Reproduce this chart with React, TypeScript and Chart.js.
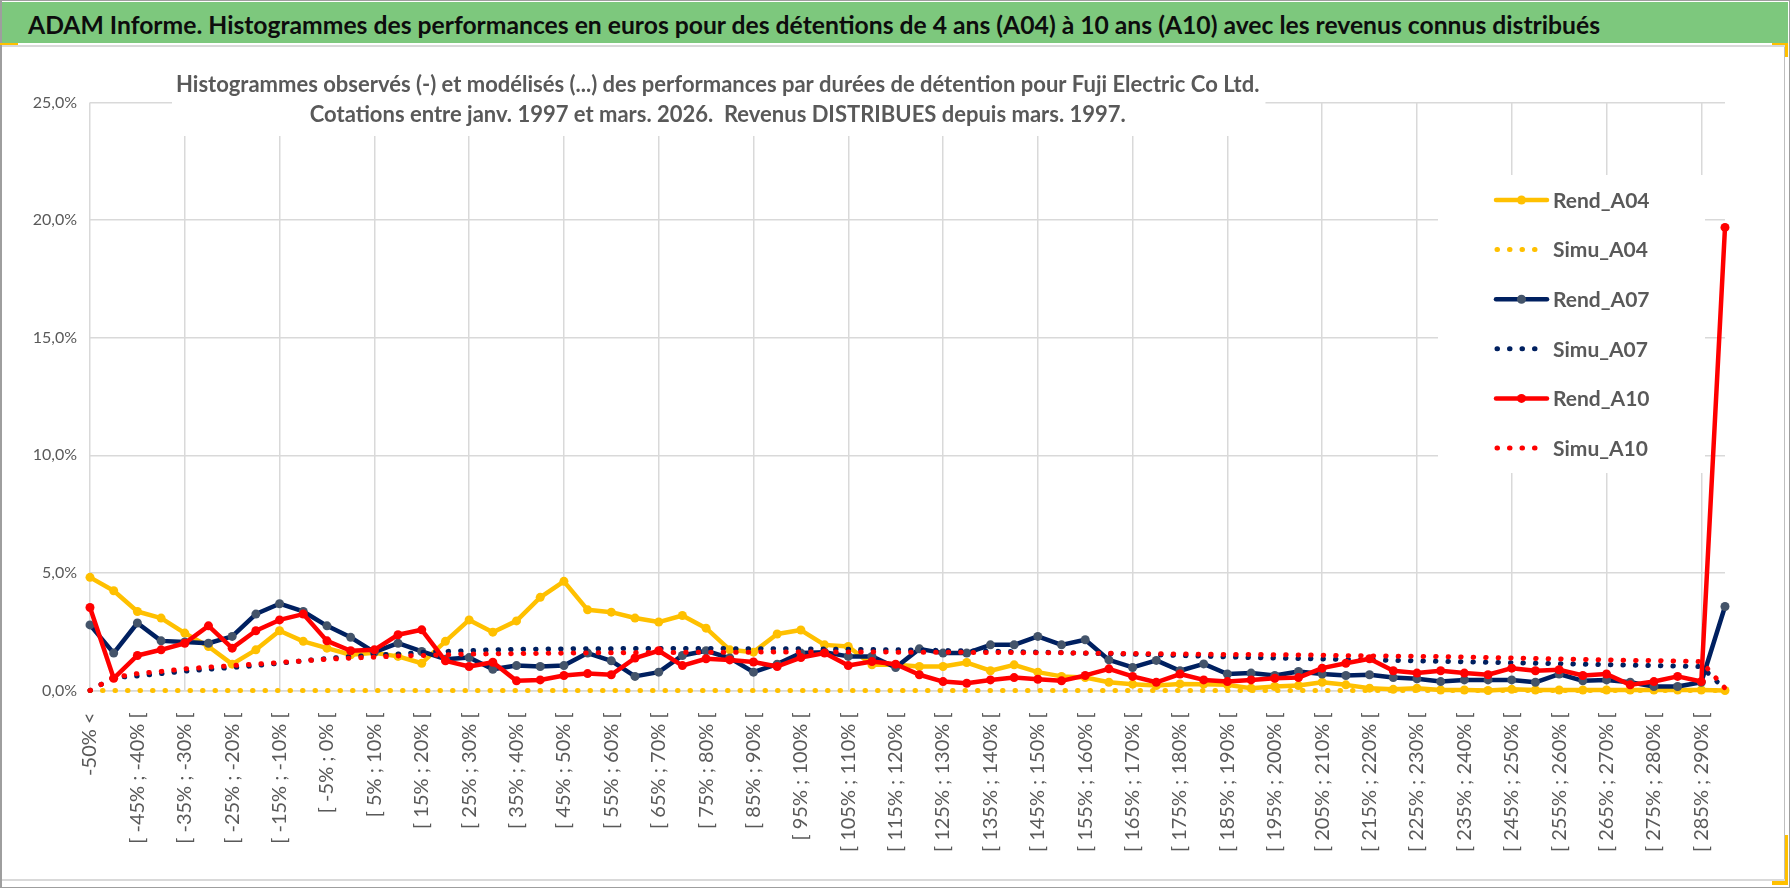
import React, { useEffect, useRef, useMemo } from 'react';
import { Chart, registerables } from 'chart.js';

Chart.register(...registerables);

const TITLE =
  'ADAM Informe. Histogrammes des performances en euros pour des détentions de 4 ans (A04) à 10 ans (A10) avec les revenus connus distribués';

const SUBTITLE_LINES = [
  'Histogrammes observés (-) et modélisés (...) des performances par durées de détention pour Fuji Electric Co Ltd.',
  'Cotations entre janv. 1997 et mars. 2026.  Revenus DISTRIBUES depuis mars. 1997.',
];

const CATEGORIES = [
  '-50% <',
  '[ -50% ; -45% [', '[ -45% ; -40% [', '[ -40% ; -35% [', '[ -35% ; -30% [', '[ -30% ; -25% [',
  '[ -25% ; -20% [', '[ -20% ; -15% [', '[ -15% ; -10% [', '[ -10% ; -5% [', '[ -5% ; 0% [',
  '[ 0% ; 5% [', '[ 5% ; 10% [', '[ 10% ; 15% [', '[ 15% ; 20% [', '[ 20% ; 25% [',
  '[ 25% ; 30% [', '[ 30% ; 35% [', '[ 35% ; 40% [', '[ 40% ; 45% [', '[ 45% ; 50% [',
  '[ 50% ; 55% [', '[ 55% ; 60% [', '[ 60% ; 65% [', '[ 65% ; 70% [', '[ 70% ; 75% [',
  '[ 75% ; 80% [', '[ 80% ; 85% [', '[ 85% ; 90% [', '[ 90% ; 95% [', '[ 95% ; 100% [',
  '[ 100% ; 105% [', '[ 105% ; 110% [', '[ 110% ; 115% [', '[ 115% ; 120% [', '[ 120% ; 125% [',
  '[ 125% ; 130% [', '[ 130% ; 135% [', '[ 135% ; 140% [', '[ 140% ; 145% [', '[ 145% ; 150% [',
  '[ 150% ; 155% [', '[ 155% ; 160% [', '[ 160% ; 165% [', '[ 165% ; 170% [', '[ 170% ; 175% [',
  '[ 175% ; 180% [', '[ 180% ; 185% [', '[ 185% ; 190% [', '[ 190% ; 195% [', '[ 195% ; 200% [',
  '[ 200% ; 205% [', '[ 205% ; 210% [', '[ 210% ; 215% [', '[ 215% ; 220% [', '[ 220% ; 225% [',
  '[ 225% ; 230% [', '[ 230% ; 235% [', '[ 235% ; 240% [', '[ 240% ; 245% [', '[ 245% ; 250% [',
  '[ 250% ; 255% [', '[ 255% ; 260% [', '[ 260% ; 265% [', '[ 265% ; 270% [', '[ 270% ; 275% [',
  '[ 275% ; 280% [', '[ 280% ; 285% [', '[ 285% ; 290% [',
  '> 290%',
];

const REND_A04 = [
  4.81, 4.24, 3.36, 3.08, 2.44, 1.87, 1.12, 1.73, 2.54, 2.09,
  1.80, 1.52, 1.60, 1.45, 1.16, 2.09, 3.00, 2.48, 2.96, 3.96,
  4.64, 3.43, 3.33, 3.08, 2.91, 3.19, 2.65, 1.73, 1.63, 2.40,
  2.57, 1.94, 1.87, 1.09, 1.09, 1.02, 1.02, 1.19, 0.84, 1.09,
  0.78, 0.60, 0.55, 0.35, 0.27, 0.21, 0.28, 0.27, 0.24, 0.10,
  0.17, 0.21, 0.35, 0.24, 0.10, 0.05, 0.10, 0.02, 0.02, 0.00,
  0.05, 0.02, 0.02, 0.02, 0.02, 0.02, 0.02, 0.02, 0.02, 0.00,
];

const SIMU_A04 = [
  0, 0, 0, 0, 0, 0, 0, 0, 0, 0,
  0, 0, 0, 0, 0, 0, 0, 0, 0, 0,
  0, 0, 0, 0, 0, 0, 0, 0, 0, 0,
  0, 0, 0, 0, 0, 0, 0, 0, 0, 0,
  0, 0, 0, 0, 0, 0, 0, 0, 0, 0,
  0, 0, 0, 0, 0, 0, 0, 0, 0, 0,
  0, 0, 0, 0, 0, 0, 0, 0, 0, 0,
];

const REND_A07 = [
  2.79, 1.59, 2.87, 2.11, 2.06, 2.01, 2.30, 3.25, 3.69, 3.36,
  2.75, 2.26, 1.63, 2.01, 1.66, 1.33, 1.40, 0.90, 1.06, 1.02,
  1.06, 1.59, 1.26, 0.60, 0.78, 1.49, 1.69, 1.38, 0.78, 1.12,
  1.59, 1.63, 1.45, 1.45, 0.98, 1.77, 1.59, 1.59, 1.94, 1.94,
  2.30, 1.94, 2.16, 1.30, 0.98, 1.28, 0.84, 1.13, 0.70, 0.74,
  0.64, 0.81, 0.70, 0.64, 0.67, 0.55, 0.50, 0.38, 0.45, 0.45,
  0.45, 0.35, 0.70, 0.41, 0.45, 0.35, 0.17, 0.17, 0.35, 3.57,
];

const SIMU_A07 = [
  0.00, 0.55, 0.62, 0.72, 0.82, 0.90, 0.98, 1.06, 1.16, 1.26,
  1.36, 1.44, 1.51, 1.55, 1.62, 1.66, 1.69, 1.73, 1.75, 1.76,
  1.77, 1.78, 1.78, 1.79, 1.79, 1.79, 1.79, 1.78, 1.78, 1.77,
  1.77, 1.76, 1.75, 1.74, 1.73, 1.72, 1.70, 1.68, 1.67, 1.65,
  1.63, 1.61, 1.58, 1.56, 1.54, 1.52, 1.49, 1.46, 1.43, 1.40,
  1.38, 1.36, 1.34, 1.32, 1.30, 1.28, 1.26, 1.24, 1.22, 1.20,
  1.18, 1.16, 1.14, 1.12, 1.10, 1.08, 1.06, 1.04, 1.02, 0.05,
];

const REND_A10 = [
  3.53, 0.52, 1.49, 1.73, 2.01, 2.75, 1.80, 2.54, 3.00, 3.25,
  2.11, 1.69, 1.73, 2.37, 2.58, 1.26, 1.02, 1.20, 0.41, 0.45,
  0.64, 0.72, 0.67, 1.38, 1.69, 1.06, 1.35, 1.30, 1.21, 1.02,
  1.40, 1.59, 1.06, 1.23, 1.12, 0.67, 0.38, 0.31, 0.45, 0.55,
  0.48, 0.41, 0.64, 0.92, 0.60, 0.35, 0.70, 0.45, 0.38, 0.45,
  0.52, 0.55, 0.95, 1.16, 1.35, 0.84, 0.74, 0.84, 0.74, 0.67,
  0.95, 0.84, 0.88, 0.64, 0.70, 0.24, 0.38, 0.60, 0.38, 19.69,
];

const SIMU_A10 = [
  0.00, 0.55, 0.72, 0.81, 0.92, 0.99, 1.06, 1.12, 1.19, 1.26,
  1.33, 1.38, 1.42, 1.47, 1.49, 1.52, 1.55, 1.56, 1.57, 1.58,
  1.59, 1.60, 1.60, 1.61, 1.62, 1.62, 1.63, 1.63, 1.63, 1.64,
  1.64, 1.64, 1.64, 1.64, 1.63, 1.63, 1.63, 1.62, 1.62, 1.61,
  1.60, 1.60, 1.59, 1.58, 1.57, 1.56, 1.55, 1.54, 1.53, 1.53,
  1.52, 1.51, 1.50, 1.48, 1.47, 1.46, 1.45, 1.44, 1.42, 1.40,
  1.38, 1.36, 1.34, 1.32, 1.30, 1.28, 1.27, 1.25, 1.23, 0.10,
];

const Y_MIN = 0;
const Y_MAX = 25;
const Y_STEP = 5;

const YELLOW = '#FFC000';
const NAVY = '#002060';
const SLATE = '#44546A';
const RED = '#FF0000';
const GRID = '#D9D9D9';
const TEXT = '#595959';
const FONT = 'Lato, "Open Sans", sans-serif';
const DOTS = [0.5, 12];

function fitFontSize(text: string, target: number): number {
  const c = document.createElement('canvas').getContext('2d');
  if (!c) return 28;
  c.font = `bold 100px ${FONT}`;
  return (100 * target) / c.measureText(text).width;
}

const overlayPlugin = {
  id: 'overlay',
  beforeDatasetsDraw(chart: any) {
    const ctx = chart.ctx as CanvasRenderingContext2D;
    ctx.save();
    // subtitle (inside plot, on white box)
    ctx.font = `bold 22px ${FONT}`;
    const w1 = ctx.measureText(SUBTITLE_LINES[0]).width;
    const left = 174;
    ctx.fillStyle = '#ffffff';
    ctx.fillRect(left - 4, 0, w1 + 10, 89);
    ctx.fillStyle = TEXT;
    ctx.textAlign = 'center';
    ctx.textBaseline = 'alphabetic';
    const cx = left + w1 / 2;
    ctx.fillText(SUBTITLE_LINES[0], cx, 45);
    ctx.fillText(SUBTITLE_LINES[1], cx, 75);

    // legend
    ctx.fillStyle = '#ffffff';
    ctx.fillRect(1436, 128, 267, 298);
    const ds = chart.data.datasets;
    ds.forEach((d: any, i: number) => {
      const y = 153 + i * 49.6;
      ctx.save();
      ctx.strokeStyle = d.borderColor;
      ctx.lineWidth = d.borderWidth;
      ctx.lineCap = 'round';
      ctx.setLineDash(d.borderDash || []);
      ctx.beginPath();
      ctx.moveTo(d.borderDash ? 1495 : 1494, y);
      ctx.lineTo(1545, y);
      ctx.stroke();
      ctx.setLineDash([]);
      if (d.pointRadius > 0) {
        ctx.fillStyle = d.pointBackgroundColor;
        ctx.beginPath();
        ctx.arc(1519.5, y, d.pointRadius, 0, Math.PI * 2);
        ctx.fill();
      }
      ctx.restore();
      ctx.fillStyle = TEXT;
      ctx.font = `bold 21px ${FONT}`;
      ctx.textAlign = 'left';
      ctx.textBaseline = 'middle';
      ctx.fillText(d.label, 1551, y + 1);
    });
    ctx.restore();
  },
};

function ChartCanvas() {
  const ref = useRef<HTMLCanvasElement | null>(null);
  useEffect(() => {
    if (!ref.current) return;
    const rend = (label: string, data: number[], line: string, marker: string, order: number) => ({
      label,
      data,
      borderColor: line,
      backgroundColor: line,
      borderWidth: 4.5,
      borderCapStyle: 'round',
      borderJoinStyle: 'round',
      pointRadius: 4.5,
      pointBackgroundColor: marker,
      pointBorderColor: marker,
      pointBorderWidth: 0,
      tension: 0,
      clip: false,
      order,
    });
    const simu = (label: string, data: number[], color: string, order: number) => ({
      label,
      data,
      borderColor: color,
      backgroundColor: color,
      borderWidth: 5,
      borderDash: DOTS,
      borderCapStyle: 'round',
      pointRadius: 0,
      tension: 0,
      clip: false,
      order,
    });
    const chart = new Chart(ref.current, {
      type: 'line',
      data: {
        labels: CATEGORIES,
        datasets: [
          rend('Rend_A04', REND_A04, YELLOW, YELLOW, 6),
          simu('Simu_A04', SIMU_A04, YELLOW, 5),
          rend('Rend_A07', REND_A07, NAVY, SLATE, 4),
          simu('Simu_A07', SIMU_A07, NAVY, 3),
          rend('Rend_A10', REND_A10, RED, RED, 2),
          simu('Simu_A10', SIMU_A10, RED, 1),
        ] as any,
      },
      options: {
        animation: false,
        responsive: false,
        maintainAspectRatio: false,
        layout: { padding: { top: 55.5, right: 60, bottom: 0, left: 0 } },
        plugins: {
          legend: { display: false },
          title: { display: false },
          tooltip: { enabled: false },
        },
        scales: {
          x: {
            type: 'category',
            offset: false,
            grid: {
              color: (c: any) => (c.index % 4 === 0 ? GRID : 'rgba(0,0,0,0)'),
              lineWidth: 1.5,
              drawTicks: false,
            },
            border: { display: true, color: GRID, width: 1.5 },
            ticks: {
              autoSkip: false,
              maxRotation: 90,
              minRotation: 90,
              padding: 22,
              color: TEXT,
              font: { family: FONT, size: 20 },
              callback: (_v: any, i: number) => (i % 2 === 0 ? CATEGORIES[i] : ''),
            },
            afterFit: (s: any) => {
              s.height = 188.5;
            },
          },
          y: {
            min: Y_MIN,
            max: Y_MAX,
            grid: { color: GRID, lineWidth: 1.5, drawTicks: false },
            border: { display: false },
            ticks: {
              stepSize: Y_STEP,
              padding: 13,
              color: TEXT,
              font: { family: FONT, size: 16 },
              callback: (v: any) => Number(v).toFixed(1).replace('.', ',') + '%',
            },
            afterFit: (s: any) => {
              s.width = 88;
            },
          },
        },
      } as any,
      plugins: [overlayPlugin],
    });
    return () => chart.destroy();
  }, []);
  return (
    <canvas
      ref={ref}
      width={1783}
      height={832}
      style={{ position: 'absolute', left: 2, top: 47, width: 1783, height: 832 }}
    />
  );
}

export default function App() {
  const fs = useMemo(() => fitFontSize(TITLE, 1574), []);
  return (
    <div
      style={{
        position: 'absolute',
        left: 0,
        top: 0,
        width: 1790,
        height: 888,
        background: '#ffffff',
        overflow: 'hidden',
        fontFamily: FONT,
      }}
    >
      {/* outer frame */}
      <div style={{ position: 'absolute', left: 0, top: 0, width: 1790, height: 888, boxSizing: 'border-box', border: '1px solid #9E9E9E', borderLeftWidth: 2 }} />
      {/* header */}
      <div style={{ position: 'absolute', left: 2, top: 2, width: 1786, height: 41, background: '#7DC87D' }} />
      <div
        style={{
          position: 'absolute',
          left: 28,
          top: 35 - 0.887 * fs,
          fontSize: fs,
          lineHeight: `${fs}px`,
          fontWeight: 700,
          color: '#0D0D0D',
          whiteSpace: 'nowrap',
        }}
      >
        {TITLE}
      </div>
      <div style={{ position: 'absolute', left: 2, top: 45, width: 1786, height: 2, background: GRID }} />
      {/* chart box borders */}
      <div style={{ position: 'absolute', left: 1784, top: 47, width: 1, height: 832, background: '#BFBFBF' }} />
      <div style={{ position: 'absolute', left: 2, top: 879, width: 1783, height: 2, background: GRID }} />
      {/* selection accents */}
      <div style={{ position: 'absolute', left: 0, top: 43, width: 18, height: 2, background: YELLOW }} />
      <div style={{ position: 'absolute', left: 1772, top: 43, width: 16, height: 2, background: YELLOW }} />
      <div style={{ position: 'absolute', left: 1785, top: 43, width: 3, height: 14, background: YELLOW }} />
      <div style={{ position: 'absolute', left: 1785, top: 835, width: 3, height: 50, background: YELLOW }} />
      <div style={{ position: 'absolute', left: 1772, top: 881, width: 16, height: 4, background: YELLOW }} />
      <ChartCanvas />
    </div>
  );
}
